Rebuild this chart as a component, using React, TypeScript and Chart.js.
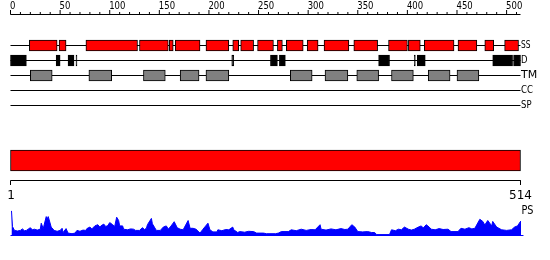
import { useEffect, useRef } from "react";
import { Chart, registerables } from "chart.js";

Chart.register(...registerables);

// ---------- data ----------
const SEQ_LENGTH = 514;
const rulerLabels = [0, 50, 100, 150, 200, 250, 300, 350, 400, 450, 500];
const RULER_STEP = 10;
const trackNames = ["SS", "D", "TM", "CC", "SP"];

// secondary structure (helix) segments [start, end]
const ssSegments: [number, number][] = [
  [19, 47], [49, 56], [76, 128], [130, 159], [160, 164], [166, 191], [197, 220],
  [224, 230], [232, 245], [249, 265], [269, 274], [278, 295], [299, 310], [316, 341],
  [346, 370], [381, 400], [401, 413], [417, 447], [451, 470], [478, 487], [498, 512],
];

// disordered segments
const disorderSegments: [number, number][] = [
  [0, 16], [46, 50], [58, 64], [66, 67], [223, 225], [262, 269], [271, 277],
  [371, 382], [407, 408], [410, 418], [486, 506], [507, 514],
];

// transmembrane segments
const tmSegments: [number, number][] = [
  [20, 42], [79, 102], [134, 156], [171, 190], [197, 220], [282, 304], [317, 340],
  [349, 371], [384, 406], [421, 443], [450, 472],
];

const ccSegments: [number, number][] = [];
const spSegments: [number, number][] = [];

// PS profile (residue, score)
const psPositions = [
  1, 2, 4, 7, 10, 12, 14, 16, 20, 22, 24, 27, 30, 31, 33, 36, 37, 38, 39, 41, 44, 47, 50, 52,
  53, 56, 58, 62, 65, 67, 70, 73, 76, 77, 80, 82, 85, 88, 90, 91, 94, 96, 98, 100, 103, 105,
  107, 109, 110, 113, 114, 118, 121, 124, 126, 130, 133, 135, 137, 138, 142, 143, 145, 147,
  151, 154, 157, 159, 161, 165, 168, 171, 174, 179, 181, 184, 187, 191, 194, 199, 201, 204,
  208, 209, 213, 217, 220, 224, 225, 229, 231, 236, 240, 245, 248, 255, 258, 267, 270, 273,
  280, 283, 288, 293, 298, 303, 307, 312, 313, 318, 323, 328, 333, 337, 340, 344, 347, 350,
  355, 360, 364, 367, 369, 382, 384, 388, 391, 394, 397, 401, 404, 407, 411, 414, 416, 419,
  422, 424, 428, 432, 436, 441, 444, 451, 454, 458, 462, 465, 468, 473, 476, 478, 481, 485,
  486, 490, 495, 500, 505, 508, 511, 514,
];
const psValues = [
  0.82, 0.30, 0.17, 0.15, 0.17, 0.22, 0.16, 0.17, 0.26, 0.19, 0.21, 0.18, 0.21, 0.41, 0.23,
  0.63, 0.55, 0.63, 0.52, 0.28, 0.17, 0.14, 0.17, 0.24, 0.10, 0.23, 0.08, 0.06, 0.08, 0.17,
  0.14, 0.18, 0.17, 0.23, 0.28, 0.22, 0.32, 0.36, 0.28, 0.32, 0.38, 0.30, 0.33, 0.43, 0.36,
  0.30, 0.61, 0.50, 0.32, 0.32, 0.21, 0.19, 0.22, 0.21, 0.17, 0.17, 0.26, 0.20, 0.24, 0.36,
  0.57, 0.39, 0.28, 0.17, 0.17, 0.28, 0.32, 0.22, 0.28, 0.46, 0.26, 0.21, 0.19, 0.50, 0.24,
  0.24, 0.21, 0.08, 0.21, 0.41, 0.19, 0.12, 0.12, 0.19, 0.16, 0.20, 0.19, 0.28, 0.19, 0.10,
  0.13, 0.11, 0.14, 0.13, 0.08, 0.08, 0.06, 0.06, 0.08, 0.13, 0.13, 0.19, 0.16, 0.21, 0.17,
  0.20, 0.19, 0.36, 0.21, 0.18, 0.22, 0.19, 0.23, 0.20, 0.21, 0.36, 0.28, 0.13, 0.12, 0.13,
  0.10, 0.10, 0.03, 0.03, 0.19, 0.16, 0.21, 0.19, 0.28, 0.21, 0.18, 0.21, 0.28, 0.32, 0.25,
  0.36, 0.28, 0.21, 0.19, 0.23, 0.20, 0.21, 0.13, 0.13, 0.24, 0.21, 0.26, 0.22, 0.24, 0.54,
  0.47, 0.35, 0.50, 0.32, 0.47, 0.28, 0.19, 0.17, 0.19, 0.28, 0.32, 0.47,
];

// ---------- layout (canvas pixel rows on the y scale) ----------
const W = 550;
const H = 260;
const X0_PX = 10.5; // pixel of residue 0
const PX_PER_RES = 510 / 514;
const RULER_Y = 14.5;
const RULER_MINOR = 2.5;
const RULER_MAJOR = 4.5;
const RULER_LABEL_Y = 5.8;
const TRACK_Y = [45.5, 60.5, 75.5, 90.5, 105.5];
const BOX_H = 11;
const BAR_Y = 160.5;
const BAR_H = 21;
const BRACKET_Y = 180.5;
const BRACKET_TICK = 4.5;
const PS_BASE_PX = 235.5;
const PS_PX_PER_UNIT = 30;
const LABEL_WIDTHS: Record<string, number> = { SS: 9.5, D: 6.5, TM: 17, CC: 12, SP: 10.5 };

const xMin = -X0_PX / PX_PER_RES;
const xMax = xMin + W / PX_PER_RES;
const psMin = -(H - PS_BASE_PX) / PS_PX_PER_UNIT;
const psMax = psMin + H / PS_PX_PER_UNIT;

function boxDataset(segs: [number, number][], y: number, fill: string, border: string) {
  return {
    type: "bar" as const,
    indexAxis: "y" as const,
    grouped: false,
    data: segs.map(([s, e]) => ({ x: [s, e], y })),
    backgroundColor: fill,
    borderColor: border,
    borderWidth: 1,
    borderSkipped: false,
    barThickness: BOX_H,
    order: 1,
    xAxisID: "x",
    yAxisID: "y",
  };
}

function lineDataset(points: { x: number; y: number | null }[], color = "#000", order = 5) {
  return {
    type: "line" as const,
    data: points,
    borderColor: color,
    borderWidth: 1,
    pointRadius: 0,
    pointHoverRadius: 0,
    tension: 0,
    fill: false,
    spanGaps: false,
    order,
    xAxisID: "x",
    yAxisID: "y",
  };
}

export default function App() {
  const ref = useRef<HTMLCanvasElement | null>(null);

  useEffect(() => {
    if (!ref.current) return;

    // ruler tick segments
    const rulerPts: { x: number; y: number | null }[] = [];
    for (let t = 0; t <= SEQ_LENGTH; t += RULER_STEP) {
      const len = t % 50 === 0 ? RULER_MAJOR : RULER_MINOR;
      rulerPts.push({ x: t, y: RULER_Y }, { x: t, y: RULER_Y - len }, { x: t, y: null });
    }

    const trackSegs = [ssSegments, disorderSegments, tmSegments, ccSegments, spSegments];
    const fills = ["#ff0000", "#000000", "#808080", "#ffff00", "#00ff00"];

    const datasets: any[] = [
      lineDataset([{ x: 0, y: RULER_Y }, { x: SEQ_LENGTH, y: RULER_Y }]),
      lineDataset(rulerPts),
      ...TRACK_Y.map((y) => lineDataset([{ x: 0, y }, { x: SEQ_LENGTH, y }])),
      ...trackSegs.map((segs, i) => boxDataset(segs, TRACK_Y[i], fills[i], "#000")),
      {
        ...boxDataset([[0, SEQ_LENGTH]], BAR_Y, "#ff0000", "#000"),
        barThickness: BAR_H,
      },
      lineDataset([
        { x: 0, y: BRACKET_Y + BRACKET_TICK },
        { x: 0, y: BRACKET_Y },
        { x: SEQ_LENGTH, y: BRACKET_Y },
        { x: SEQ_LENGTH, y: BRACKET_Y + BRACKET_TICK },
      ]),
      {
        type: "line",
        data: psPositions.map((p, i) => ({ x: p, y: psValues[i] })).concat([{ x: SEQ_LENGTH, y: 0 }]),
        borderColor: "#0000ff",
        backgroundColor: "#0000ff",
        borderWidth: 1,
        pointRadius: 0,
        pointHoverRadius: 0,
        tension: 0,
        fill: "origin",
        order: 3,
        xAxisID: "x",
        yAxisID: "yPS",
      },
      lineDataset([{ x: 0, y: PS_BASE_PX }, { x: SEQ_LENGTH + 3, y: PS_BASE_PX }], "#0000ff", 2),
    ];

    const textPlugin = {
      id: "texts",
      afterDatasetsDraw(chart: any) {
        const { ctx } = chart;
        const xs = chart.scales.x;
        const ys = chart.scales.y;
        ctx.save();
        ctx.fillStyle = "#000";
        ctx.textBaseline = "middle";
        ctx.textAlign = "left";
        ctx.font = '10.5px "DejaVu Sans"';
        rulerLabels.forEach((t) => {
          const s = String(t);
          ctx.fillText(s, xs.getPixelForValue(t) - 0.5, ys.getPixelForValue(RULER_LABEL_Y), s.length * 5.4);
        });
        ctx.font = '11px "DejaVu Sans"';
        const endX = xs.getPixelForValue(SEQ_LENGTH);
        trackNames.forEach((n, i) => {
          ctx.fillText(n, endX + 0.5, ys.getPixelForValue(TRACK_Y[i]), LABEL_WIDTHS[n]);
        });
        ctx.font = '12px "DejaVu Sans"';
        ctx.textAlign = "center";
        ctx.fillText("1", xs.getPixelForValue(0) + 0.5, ys.getPixelForValue(196));
        ctx.fillText(String(SEQ_LENGTH), endX, ys.getPixelForValue(195.8));
        ctx.textAlign = "left";
        ctx.fillText("PS", endX + 1, ys.getPixelForValue(211), 12);
        ctx.restore();
      },
    };

    const chart = new Chart(ref.current, {
      type: "line",
      data: { datasets },
      options: {
        animation: false,
        responsive: false,
        devicePixelRatio: 1,
        events: [],
        layout: { padding: 0 },
        plugins: { legend: { display: false }, tooltip: { enabled: false }, title: { display: false } },
        scales: {
          x: { type: "linear", display: false, min: xMin, max: xMax, offset: false },
          y: { type: "linear", display: false, min: 0, max: H, reverse: true, offset: false },
          yPS: { type: "linear", display: false, min: psMin, max: psMax, offset: false },
        },
      },
      plugins: [textPlugin],
    } as any);

    return () => chart.destroy();
  }, []);

  return (
    <div style={{ position: "absolute", left: 0, top: 0, width: W, height: H, background: "#fff" }}>
      <canvas ref={ref} width={W} height={H} style={{ width: W, height: H, display: "block" }} />
    </div>
  );
}
